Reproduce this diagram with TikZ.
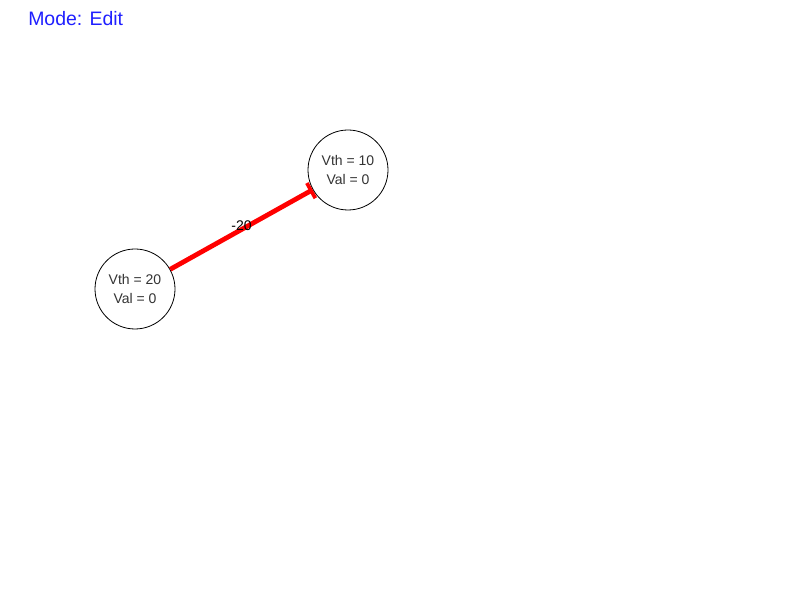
\documentclass[tikz,border=0pt]{standalone}
\usepackage{xcolor}
\usepackage{fontspec}
\setmainfont{Liberation Sans}
\usepackage{tikz}
\usetikzlibrary{arrows.meta}
\definecolor{ink}{HTML}{333333}
\definecolor{modeblue}{HTML}{1F1FFF}
\definecolor{edgered}{HTML}{FF0000}
\tikzset{
  neuron/.style={draw=black, line width=0.6pt, circle, minimum size=60pt, inner sep=0pt,
    font=\fontsize{10.5}{14.25}\selectfont, text=ink, align=center},
  synapse/.style={draw=edgered, line width=3.6pt, -{Bar[width=13pt, line width=2.8pt]}},
  weight/.style={font=\fontsize{10.5}{12}\selectfont, text=black, inner sep=1pt},
  mode/.style={font=\fontsize{14.6}{17}\selectfont, text=modeblue, anchor=west, inner sep=0pt}
}
\begin{document}
\begin{tikzpicture}[x=0.75pt, y=-0.75pt]
  \useasboundingbox (0,0) rectangle (793,591);

  % mode indicator
  \node[mode] (modetext) at (28,19) {Mode: Edit};

  % neurons
  \node[neuron] (n1) at (135,289) {Vth = 20\\Val = 0};
  \node[neuron] (n2) at (348,170) {Vth = 10\\Val = 0};

  % inhibitory connection
  \draw[synapse] (n1) -- (n2) node[weight, pos=0.5, yshift=3pt] (w12) {-20};
\end{tikzpicture}
\end{document}
